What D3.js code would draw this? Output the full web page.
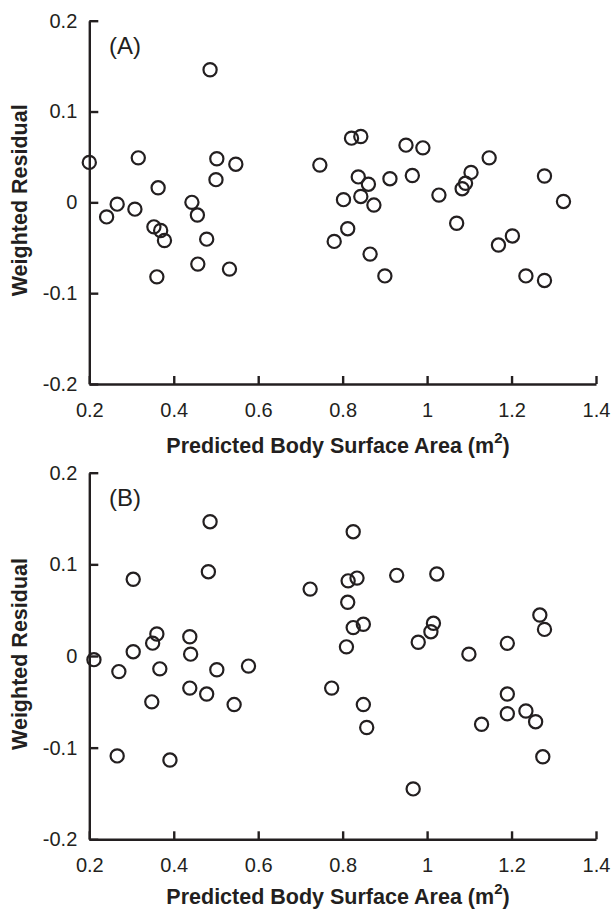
<!DOCTYPE html>
<html>
<head>
<meta charset="utf-8">
<script src="https://cdn.jsdelivr.net/npm/d3@7"></script>
<style>
  body { margin: 0; background: #fff; }
  svg { display: block; }
  text { font-family: "Liberation Sans", Arial, sans-serif; fill: #231f20; }
</style>
</head>
<body>
<svg id="chart" width="611" height="910"></svg>
<script>
// panel A: predicted BSA vs weighted residual
const bsaA = [0.200, 0.241, 0.266, 0.308, 0.316, 0.353, 0.360, 0.363, 0.369, 0.378,
  0.443, 0.456, 0.457, 0.478, 0.486, 0.500, 0.502, 0.532, 0.547, 0.746,
  0.780, 0.802, 0.812, 0.821, 0.837, 0.843, 0.843, 0.861, 0.865, 0.874,
  0.900, 0.912, 0.950, 0.965, 0.990, 1.028, 1.070, 1.083, 1.091, 1.104,
  1.147, 1.169, 1.202, 1.234, 1.278, 1.278, 1.323];
const residA = [0.044, -0.016, -0.002, -0.0075, 0.049, -0.027, -0.082, 0.016, -0.031, -0.042,
  0.000, -0.014, -0.068, -0.0405, 0.146, 0.025, 0.048, -0.0735, 0.042, 0.041,
  -0.043, 0.003, -0.029, 0.0707, 0.028, 0.0725, 0.0065, 0.020, -0.057, -0.003,
  -0.081, 0.026, 0.063, 0.0295, 0.060, 0.008, -0.023, 0.015, 0.021, 0.033,
  0.049, -0.047, -0.037, -0.081, 0.029, -0.086, 0.001];

// panel B
const bsaB = [0.211, 0.266, 0.270, 0.304, 0.304, 0.348, 0.350, 0.360, 0.367, 0.391,
  0.438, 0.438, 0.440, 0.478, 0.482, 0.486, 0.502, 0.543, 0.577, 0.723,
  0.774, 0.809, 0.812, 0.813, 0.825, 0.825, 0.834, 0.849, 0.849, 0.857,
  0.928, 0.967, 0.979, 1.009, 1.015, 1.023, 1.099, 1.129, 1.190, 1.190,
  1.190, 1.234, 1.257, 1.267, 1.274, 1.278];
const residB = [-0.004, -0.109, -0.017, 0.0837, 0.0047, -0.050, 0.014, 0.024, -0.014, -0.1135,
  0.021, -0.035, 0.002, -0.0415, 0.092, 0.1465, -0.015, -0.053, -0.011, 0.073,
  -0.035, 0.010, 0.0586, 0.082, 0.1356, 0.031, 0.085, 0.0346, -0.053, -0.078,
  0.088, -0.145, 0.015, 0.0265, 0.0357, 0.0895, 0.002, -0.0745, 0.0138, -0.0415,
  -0.063, -0.060, -0.0717, 0.0447, -0.110, 0.029];

const xTicks = [0.2, 0.4, 0.6, 0.8, 1.0, 1.2, 1.4];
const xTickLabels = ["0.2", "0.4", "0.6", "0.8", "1", "1.2", "1.4"];
const yTicks = [-0.2, -0.1, 0, 0.1, 0.2];
const yTickLabels = ["-0.2", "-0.1", "0", "0.1", "0.2"];

const ink = "#231f20";
const svg = d3.select("#chart");

const left = 89.3, right = 596;
const x = d3.scaleLinear().domain([0.2, 1.4]).range([left, right]);

function drawPanel(top, bottom, label, xs, ys, titleY) {
    const y = d3.scaleLinear().domain([-0.2, 0.2]).range([bottom, top]);
    const g = svg.append("g");

    const yAxis = g.append("g")
        .attr("transform", `translate(${left},0)`)
        .call(d3.axisLeft(y)
            .tickValues(yTicks)
            .tickFormat((d, i) => yTickLabels[i])
            .tickSizeInner(-9)
            .tickSizeOuter(0)
            .tickPadding(12));

    const xAxis = g.append("g")
        .attr("transform", `translate(0,${bottom})`)
        .call(d3.axisBottom(x)
            .tickValues(xTicks)
            .tickFormat((d, i) => xTickLabels[i])
            .tickSizeInner(-8)
            .tickSizeOuter(0)
            .tickPadding(18.5));

    [yAxis, xAxis].forEach(function(a) {
        a.select(".domain").attr("stroke", ink).attr("stroke-width", 2.4);
        a.selectAll(".tick line").attr("stroke", ink).attr("stroke-width", 2.4);
        a.selectAll(".tick text")
            .attr("fill", ink)
            .style("font-size", "20px")
            .style("font-family", '"Liberation Sans", Arial, sans-serif');
    });

    g.append("text")
        .attr("x", 109)
        .attr("y", top + 33.5)
        .style("font-size", "24px")
        .text(label);

    g.selectAll("circle")
        .data(xs.map((d, i) => [d, ys[i]]))
        .enter()
        .append("circle")
        .attr("cx", d => x(d[0]))
        .attr("cy", d => y(d[1]))
        .attr("r", 6.6)
        .attr("fill", "none")
        .attr("stroke", ink)
        .attr("stroke-width", 2.2);

    // x title
    const xt = g.append("text")
        .attr("x", 338)
        .attr("y", titleY)
        .attr("text-anchor", "middle")
        .style("font-size", "21.5px")
        .style("font-weight", "bold");
    xt.append("tspan").text("Predicted Body Surface Area (m");
    xt.append("tspan").attr("dy", -10).style("font-size", "15px").text("2");
    xt.append("tspan").attr("dy", 10).text(")");

    // y title
    g.append("text")
        .attr("transform", `translate(27,${(top + bottom) / 2 - 2}) rotate(-90)`)
        .attr("text-anchor", "middle")
        .style("font-size", "21.5px")
        .style("font-weight", "bold")
        .text("Weighted Residual");
}

drawPanel(20.7, 384, "(A)", bsaA, residA, 452.7);
drawPanel(472.7, 839.3, "(B)", bsaB, residB, 904);
</script>
</body>
</html>
